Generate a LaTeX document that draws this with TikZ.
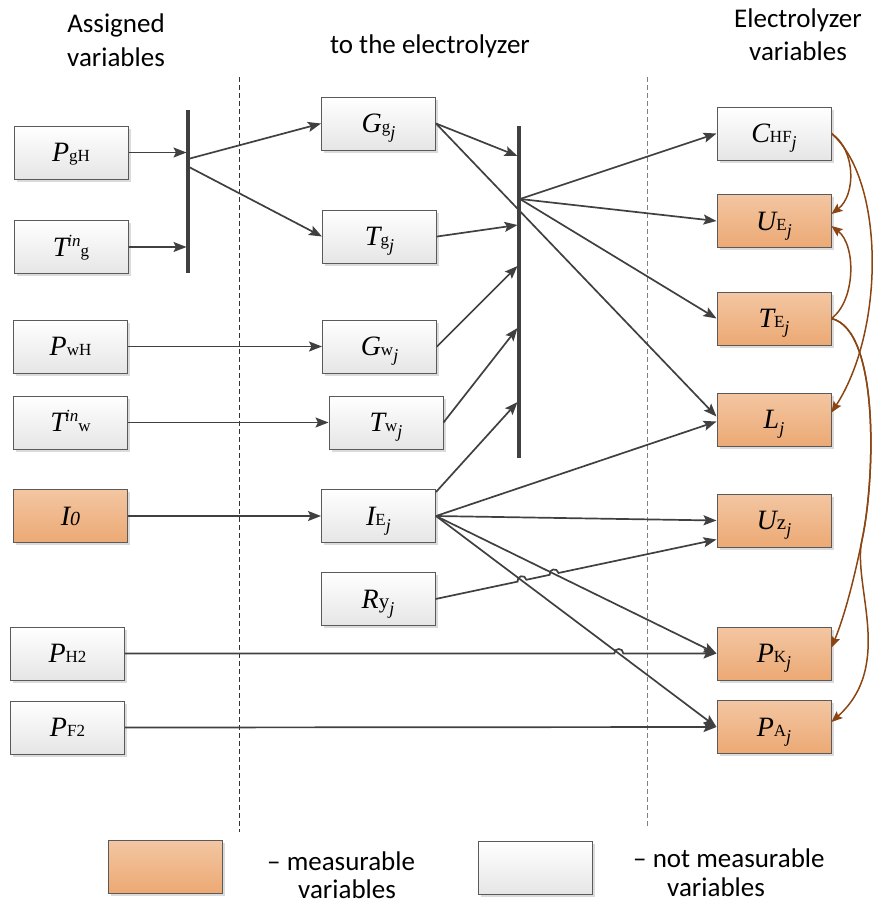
\documentclass[tikz,border=0pt]{standalone}
\usepackage{fontspec}
\setmainfont{Carlito}
\newfontfamily\tnr{Liberation Serif}
\usetikzlibrary{arrows.meta,shadows,calc,intersections}
\definecolor{lnc}{HTML}{404040}
\definecolor{brn}{HTML}{8B4513}
\definecolor{bdc}{HTML}{5A5A5A}
\definecolor{ortop}{HTML}{F3C6A2}
\definecolor{orbot}{HTML}{ECA974}
\newcommand\vbI[1]{{\fontsize{28}{28}\selectfont\itshape #1}}
\newcommand\vbS[1]{{\fontsize{17}{17}\selectfont #1}}
\newcommand\vbM[1]{{\fontsize{21}{21}\selectfont #1}}
\newcommand\vbJ{\raisebox{-6pt}{\fontsize{18}{18}\selectfont\itshape j}}
\newcommand\vbSup[1]{\raisebox{10pt}{\fontsize{17}{17}\selectfont\itshape #1}}
\newcommand\hdrfont{\fontsize{27}{33}\selectfont}
\begin{document}
\begin{tikzpicture}[x=1pt,y=-1pt,
  vbox/.style={draw=bdc, line width=1pt, minimum width=114pt, minimum height=53pt, inner sep=0pt,
    text height=18pt, text depth=0pt, font=\tnr,
    drop shadow={shadow xshift=2.5pt, shadow yshift=-2.5pt, fill=black!14, opacity=1}},
  wbox/.style={vbox, top color=white, bottom color=black!10},
  obox/.style={vbox, top color=ortop, bottom color=orbot},
  conn/.style={draw=lnc, line width=1.7pt, -{Stealth[length=13pt,width=10pt,inset=2.5pt]}},
  barln/.style={draw=lnc, line width=3.2pt},
  brarr/.style={draw=brn, line width=1.5pt, -{Stealth[length=11pt,width=9pt,inset=2pt]}},
  hdr/.style={font=\hdrfont, anchor=base, inner sep=0pt},
  legtxt/.style={font=\hdrfont, anchor=base west, inner sep=0pt},
  sepA/.style={draw=black!80, line width=0.9pt, dash pattern=on 5pt off 3pt},
  sepB/.style={draw=black!50, line width=0.9pt, dash pattern=on 5pt off 3pt}
]
\useasboundingbox (0,0) rectangle (873,903);

% headers
\node[hdr] (h1a) at (116,32) {Assigned};
\node[hdr] (h1b) at (116,66) {variables};
\node[hdr] (h2) at (430,53) {to the electrolyzer};
\node[hdr] (h3a) at (798,27) {Electrolyzer};
\node[hdr] (h3b) at (798,60) {variables};

% separators
\coordinate (s1t) at (239.5,77); \coordinate (s1b) at (239.5,832);
\coordinate (s2t) at (647,77); \coordinate (s2b) at (647,828);
\draw[sepA] (s1t) -- (s1b);
\draw[sepB] (s2t) -- (s2b);

% left column
\node[wbox] (pgh) at (71,152.5) {\vbI{P}\vbS{gH}};
\node[wbox] (ting) at (71,247) {\vbI{T}\kern-1pt\vbSup{in}\vbS{g}};
\node[wbox] (pwh) at (70.5,346.5) {\vbI{P}\vbS{wH}};
\node[wbox] (tinw) at (70.5,422.5) {\vbI{T}\kern-1pt\vbSup{in}\vbS{w}};
\node[obox] (izero) at (70.5,516) {\vbI{I}{\fontsize{20}{20}\selectfont\itshape 0}};
\node[wbox] (ph2) at (67.5,653.5) {\vbI{P}\vbS{H2}};
\node[wbox] (pf2) at (67.5,727.5) {\vbI{P}\vbS{F2}};

% middle column
\node[wbox] (ggj) at (378.5,123.5) {\vbI{G}\vbS{g}\vbJ};
\node[wbox] (tgj) at (379.5,236.5) {\vbI{T}\vbS{g}\vbJ};
\node[wbox] (gwj) at (379.5,346.5) {\vbI{G}\vbS{w}\vbJ};
\node[wbox] (twj) at (386,422.5) {\vbI{T}\vbS{w}\vbJ};
\node[wbox] (ie) at (378.5,516) {\vbI{I}\vbS{E}\vbJ};
\node[wbox] (ry) at (378,599) {\vbI{R}\vbM{y}\vbJ};

% right column
\node[wbox] (chf) at (774,133.5) {\vbI{C}\vbS{HF}\vbJ};
\node[obox] (ue) at (774,221) {\vbI{U}\vbS{E}\vbJ};
\node[obox] (te) at (774,318.5) {\vbI{T}\vbS{E}\vbJ};
\node[obox] (lj) at (774,419.5) {\vbI{L}\vbJ};
\node[obox] (uz) at (774,520.5) {\vbI{U}\vbM{z}\vbJ};
\node[obox] (pk) at (774,653.5) {\vbI{P}\vbS{K}\vbJ};
\node[obox] (pa) at (774,727) {\vbI{P}\vbS{A}\vbJ};

% bars
\coordinate (b1t) at (188,110); \coordinate (b1b) at (188,273);
\coordinate (b2t) at (519,126); \coordinate (b2b) at (519,458);
\draw[barln] (b1t) -- (b1b);
\draw[barln] (b2t) -- (b2b);

% into bar 1
\draw[conn] (pgh.east) -- (186.5,152.5);
\draw[conn] (ting.east) -- (186.5,247);
% out of bar 1
\coordinate (h1u) at (188,159);
\coordinate (h1d) at (189,167);
\draw[conn] (h1u) -- (ggj.west);
\draw[conn] (h1d) -- (tgj.west);

% straight inputs
\draw[conn] (pwh.east) -- (gwj.west);
\draw[conn] (tinw.east) -- (twj.west);
\draw[conn] (izero.east) -- (ie.west);

% into bar 2
\draw[conn] (ggj.east) -- (517.5,156);
\draw[conn] (tgj.east) -- (517.5,225);
\draw[conn] (gwj.east) -- (517.5,266);
\draw[conn] (twj.east) -- (517.5,328);
\draw[conn] ($(ie.north east)+(0,3)$) -- (517.5,402);

% out of bar 2
\coordinate (h2) at (520,199);
\draw[conn] (h2) -- (chf.west);
\draw[conn] (h2) -- (ue.west);
\draw[conn] (h2) -- (te.west);

% long connectors
\draw[conn] (ggj.east) -- ($(lj.west)+(0,-3)$);
\draw[conn] (ie.east) -- ($(lj.west)+(0,2)$);
\draw[conn] (ie.east) -- (uz.west);
\draw[conn] (ie.east) -- (pk.west);
\draw[conn] (ie.east) -- (pa.west);

% jumps
\coordinate (uzb) at ($(uz.west)+(0,19)$);
\path[name path=pry] (ry.east) -- (uzb);
\path[name path=ppk] (ie.east) -- (pk.west);
\path[name path=ppa] (ie.east) -- (pa.west);
\path[name path=pph] (ph2.east) -- (pk.west);
\path[name intersections={of=pry and ppa, by=xa}];
\path[name intersections={of=pry and ppk, by=xb}];
\path[name intersections={of=pph and ppa, by=xc}];
\coordinate (xa1) at ($(xa)!4.5pt!(ry.east)$);
\coordinate (xa2) at ($(xa)!4.5pt!(uzb)$);
\coordinate (xb1) at ($(xb)!4.5pt!(ry.east)$);
\coordinate (xb2) at ($(xb)!4.5pt!(uzb)$);
\coordinate (xc1) at ($(xc)!4.5pt!(ph2.east)$);
\coordinate (xc2) at ($(xc)!4.5pt!(pk.west)$);
\draw[conn] (ry.east) -- (xa1) .. controls ($(xa1)!6pt!90:(xa2)$) and ($(xa2)!6pt!-90:(xa1)$) .. (xa2)
  -- (xb1) .. controls ($(xb1)!6pt!90:(xb2)$) and ($(xb2)!6pt!-90:(xb1)$) .. (xb2) -- (uzb);
\draw[conn] (ph2.east) -- (xc1) .. controls ($(xc1)!6pt!90:(xc2)$) and ($(xc2)!6pt!-90:(xc1)$) .. (xc2) -- (pk.west);
\draw[conn] (pf2.east) -- (pa.west);

% brown feedback curves
\draw[brarr] (chf.east) .. controls (856,150) and (856,195) .. ($(ue.east)+(0,-7)$);
\draw[brarr] (te.east) .. controls (856,300) and (856,245) .. ($(ue.east)+(0,5)$);
\draw[brarr] (chf.east) .. controls (885,180) and (885,330) .. ($(lj.east)+(0,-7)$);
\draw[brarr] (te.east) .. controls (880,330) and (875,480) .. (862,540) .. controls (855,575) and (845,615) .. ($(pk.east)+(0,-6)$);
\draw[brarr] (te.east) .. controls (880,330) and (875,480) .. (862,540) .. controls (852,585) and (895,665) .. ($(pa.east)+(0,-5)$);

% legend
\node[obox, text height=0pt] (lego) at (165.5,866.5) {};
\node[wbox, text height=0pt] (legw) at (535,868) {};
\node[legtxt] (l1a) at (267,870) {– measurable};
\node[legtxt] (l1b) at (298,898) {variables};
\node[legtxt] (l2a) at (633,867) {– not measurable};
\node[legtxt] (l2b) at (667,896) {variables};
\end{tikzpicture}
\end{document}
